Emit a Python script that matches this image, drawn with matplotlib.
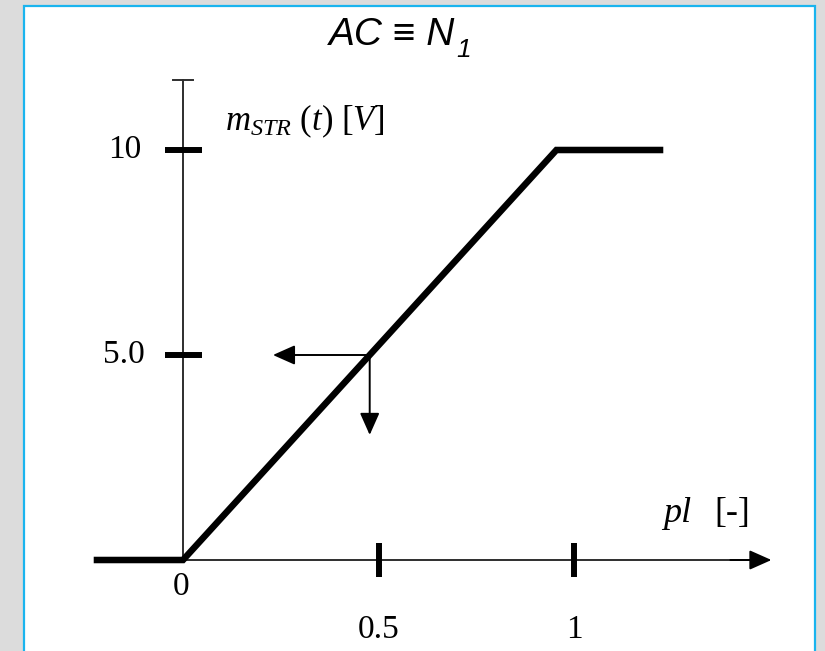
import numpy as np
import matplotlib
matplotlib.use('Agg')
import matplotlib.pyplot as plt
from matplotlib.patches import Rectangle

plt.rcParams['mathtext.fontset'] = 'custom'
plt.rcParams['mathtext.rm'] = 'Liberation Serif'
plt.rcParams['mathtext.it'] = 'Liberation Serif:italic'

# characteristic: flat at 0, linear ramp, saturation at 10 V
pl = [-0.22, 0.0, 0.955, 1.22]
m_str = [0.0, 0.0, 10.0, 10.0]

x_ticks = [0.5, 1.0]
x_tick_labels = ['0.5', '1']
y_ticks = [5.0, 10.0]
y_tick_labels = ['5.0', '10']

# operating point
m_op = 5.0
pl_op = np.interp(m_op, m_str[1:3], pl[1:3])

fig = plt.figure(figsize=(8.25, 6.51), dpi=100, facecolor='#dcdcdc')

# white panel with blue frame
panel = Rectangle((24 / 825, -0.02), (815 - 24) / 825, 1.02 - 6 / 651,
                  transform=fig.transFigure, facecolor='white',
                  edgecolor='#1ab4ee', lw=1.6, zorder=-1)
fig.add_artist(panel)

ax = fig.add_axes([0, 0, 1, 1])
ax.axis('off')
ax.set_xlim(-183 / 391, (825 - 183) / 391)
ax.set_ylim(-91 / 41, (651 - 91) / 41)

axis_col = '#2e2e2e'
arrow = dict(arrowstyle='-|>,head_length=0.9,head_width=0.4', mutation_scale=15,
             shrinkA=0, shrinkB=0, lw=1.4, color='black')

# axes
ax.plot([0, 0], [0, 11.7], color=axis_col, lw=1.4)
ax.plot([-0.025, 0.025], [11.7, 11.7], color=axis_col, lw=1.4)
ax.plot([0, 1.46], [0, 0], color=axis_col, lw=1.4)
ax.annotate('', xy=(1.505, 0), xytext=(1.4, 0), arrowprops=arrow)

# ticks
serif = 'Liberation Serif'
for yt, lab in zip(y_ticks, y_tick_labels):
    ax.plot([-0.045, 0.048], [yt, yt], color='black', lw=4.3, solid_capstyle='butt')
    ax.text(-0.15, yt, lab, ha='center', va='center', fontsize=24, family=serif)
for xt, lab in zip(x_ticks, x_tick_labels):
    ax.plot([xt, xt], [-0.41, 0.41], color='black', lw=4.3, solid_capstyle='butt')
    ax.text(xt, -1.7, lab, ha='center', va='center', fontsize=24, family=serif)
ax.text(-0.005, -0.65, '0', ha='center', va='center', fontsize=24, family=serif)

# characteristic curve
ax.plot(pl, m_str, color='black', lw=4.7, solid_joinstyle='miter')

# guide arrows from the operating point
ax.annotate('', xy=(0.23, m_op), xytext=(pl_op, m_op), arrowprops=arrow)
ax.annotate('', xy=(pl_op, 3.05), xytext=(pl_op, m_op), arrowprops=arrow)

# axis labels
ax.text(0.107, 10.49, r'$m_{STR}\ (t)\ [V]$', ha='left', va='baseline', fontsize=25)
ax.text(1.228, 0.93, 'pl', ha='left', va='baseline', fontsize=26,
        family=serif, style='italic')
ax.text(1.36, 0.93, '[-]', ha='left', va='baseline', fontsize=26, family=serif)

# title
fig.text(392 / 825, 1 - 35 / 651, 'AC ≡ N', ha='center', va='center', fontsize=28,
         family=['Liberation Sans', 'DejaVu Sans'], style='italic')
fig.text(456 / 825, 1 - 50 / 651, '1', ha='left', va='center', fontsize=19,
         family='Liberation Sans', style='italic')

fig.savefig('out.png', dpi=100, facecolor=fig.get_facecolor())
